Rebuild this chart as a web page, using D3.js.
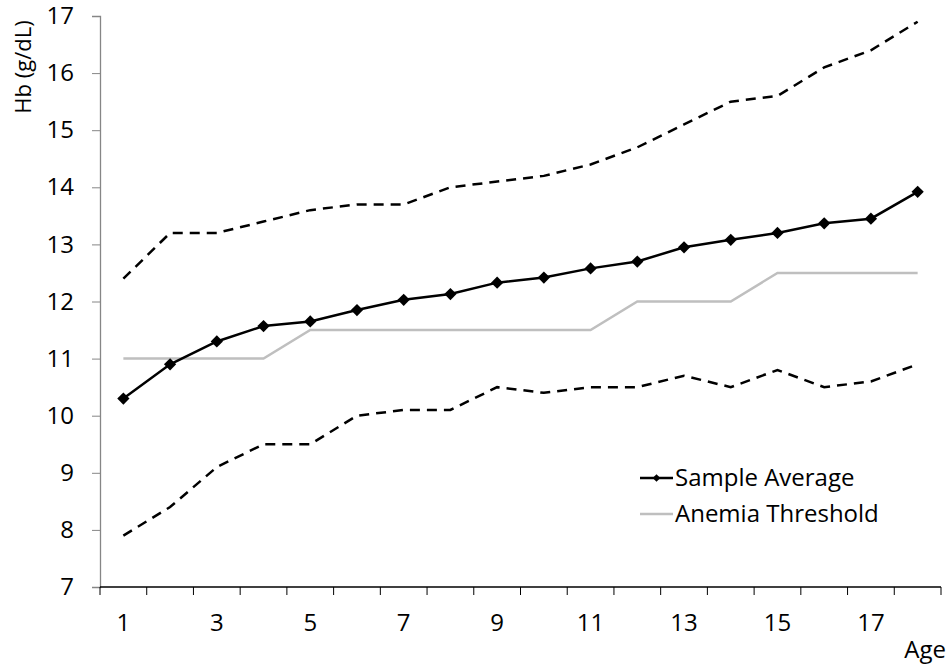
<!DOCTYPE html>
<html>
<head>
<meta charset="utf-8">
<script src="https://cdn.jsdelivr.net/npm/d3@7"></script>
<style>
  body { margin: 0; background: #fff; }
  text { font-family: "Open Sans", "Noto Sans", sans-serif; fill: #000; }
</style>
</head>
<body>
<svg id="chart" width="950" height="670"></svg>
<script>
// data
const ages = [1, 2, 3, 4, 5, 6, 7, 8, 9, 10, 11, 12, 13, 14, 15, 16, 17, 18];
const sampleAverage = [10.3, 10.9, 11.3, 11.57, 11.65, 11.85, 12.03, 12.13, 12.33, 12.42, 12.58, 12.7, 12.95, 13.08, 13.2, 13.37, 13.45, 13.92];
const anemiaThreshold = [11, 11, 11, 11, 11.5, 11.5, 11.5, 11.5, 11.5, 11.5, 11.5, 12, 12, 12, 12.5, 12.5, 12.5, 12.5];
const upperBound = [12.4, 13.2, 13.2, 13.4, 13.6, 13.7, 13.7, 14.0, 14.1, 14.2, 14.4, 14.7, 15.1, 15.5, 15.6, 16.1, 16.4, 16.9];
const lowerBound = [7.9, 8.4, 9.1, 9.5, 9.5, 10.0, 10.1, 10.1, 10.5, 10.4, 10.5, 10.5, 10.7, 10.5, 10.8, 10.5, 10.6, 10.9];
const yTicks = [7, 8, 9, 10, 11, 12, 13, 14, 15, 16, 17];

const svg = d3.select('#chart');
const plotLeft = 100, plotRight = 941, plotTop = 16, plotBottom = 587;
const fontSize = '24px';

const x = d3.scaleBand().domain(ages).range([plotLeft, plotRight]);
const y = d3.scaleLinear().domain([7, 17]).range([plotBottom, plotTop]);
const cx = d => x(d) + x.bandwidth() / 2;

// y axis
const yAxis = svg.append('g')
  .attr('transform', 'translate(' + plotLeft + ',0)')
  .call(d3.axisLeft(y).tickValues(yTicks).tickSize(8).tickPadding(18));
yAxis.attr('font-size', null).attr('font-family', null);
yAxis.select('.domain').attr('stroke', '#868686').attr('stroke-width', 1.3);
yAxis.selectAll('.tick line').attr('stroke', '#868686');
yAxis.selectAll('text').style('font-size', fontSize).attr('fill', '#000');

// x axis: ticks on category boundaries, labels on odd ages
const xAxis = svg.append('g').attr('transform', 'translate(0,' + plotBottom + ')');
xAxis.append('line').attr('x1', plotLeft).attr('x2', plotRight).attr('stroke', '#000').attr('stroke-width', 1.3);
xAxis.selectAll('.tk').data(ages.concat([null]))
  .enter().append('line')
  .attr('x1', (d, i) => i < ages.length ? x(d) : plotRight)
  .attr('x2', (d, i) => i < ages.length ? x(d) : plotRight)
  .attr('y1', 0).attr('y2', 8)
  .attr('stroke', '#000');
xAxis.selectAll('.lbl').data(ages.filter(a => a % 2 === 1))
  .enter().append('text')
  .attr('x', d => cx(d))
  .attr('y', 36)
  .attr('dy', '0.35em')
  .attr('text-anchor', 'middle')
  .style('font-size', fontSize)
  .text(d => d);

const line = d3.line().x((d, i) => cx(ages[i])).y(d => y(d));

// bounds
[upperBound, lowerBound].forEach(s => {
  svg.append('path').datum(s)
    .attr('d', line)
    .attr('fill', 'none')
    .attr('stroke', '#000')
    .attr('stroke-width', 2.5)
    .attr('stroke-dasharray', '10,7');
});

// anemia threshold
svg.append('path').datum(anemiaThreshold)
  .attr('d', line)
  .attr('fill', 'none')
  .attr('stroke', '#bfbfbf')
  .attr('stroke-width', 2.5);

// sample average
svg.append('path').datum(sampleAverage)
  .attr('d', line)
  .attr('fill', 'none')
  .attr('stroke', '#000')
  .attr('stroke-width', 2.5);

const diamond = d3.symbol().type(d3.symbolSquare).size(75);
svg.selectAll('.pt').data(sampleAverage)
  .enter().append('path')
  .attr('d', diamond)
  .attr('transform', (d, i) => 'translate(' + cx(ages[i]) + ',' + y(d) + ') rotate(45)')
  .attr('fill', '#000');

// legend
const legend = svg.append('g');
legend.append('line').attr('x1', 640).attr('x2', 673).attr('y1', 478).attr('y2', 478)
  .attr('stroke', '#000').attr('stroke-width', 2.5);
legend.append('path').attr('d', d3.symbol().type(d3.symbolSquare).size(30))
  .attr('transform', 'translate(656.5,478) rotate(45)').attr('fill', '#000');
legend.append('text').attr('x', 675).attr('y', 478).attr('dy', '0.35em').style('font-size', fontSize).text('Sample Average');
legend.append('line').attr('x1', 640).attr('x2', 673).attr('y1', 514).attr('y2', 514)
  .attr('stroke', '#bfbfbf').attr('stroke-width', 2.5);
legend.append('text').attr('x', 675).attr('y', 514).attr('dy', '0.35em').style('font-size', fontSize).text('Anemia Threshold');

// axis titles
svg.append('text')
  .attr('transform', 'translate(23,67) rotate(-90)')
  .attr('text-anchor', 'middle')
  .attr('dy', '0.35em')
  .style('font-size', '22px')
  .text('Hb (g/dL)');
svg.append('text')
  .attr('x', 946).attr('y', 650)
  .attr('dy', '0.35em')
  .attr('text-anchor', 'end')
  .style('font-size', fontSize)
  .text('Age');
</script>
</body>
</html>
